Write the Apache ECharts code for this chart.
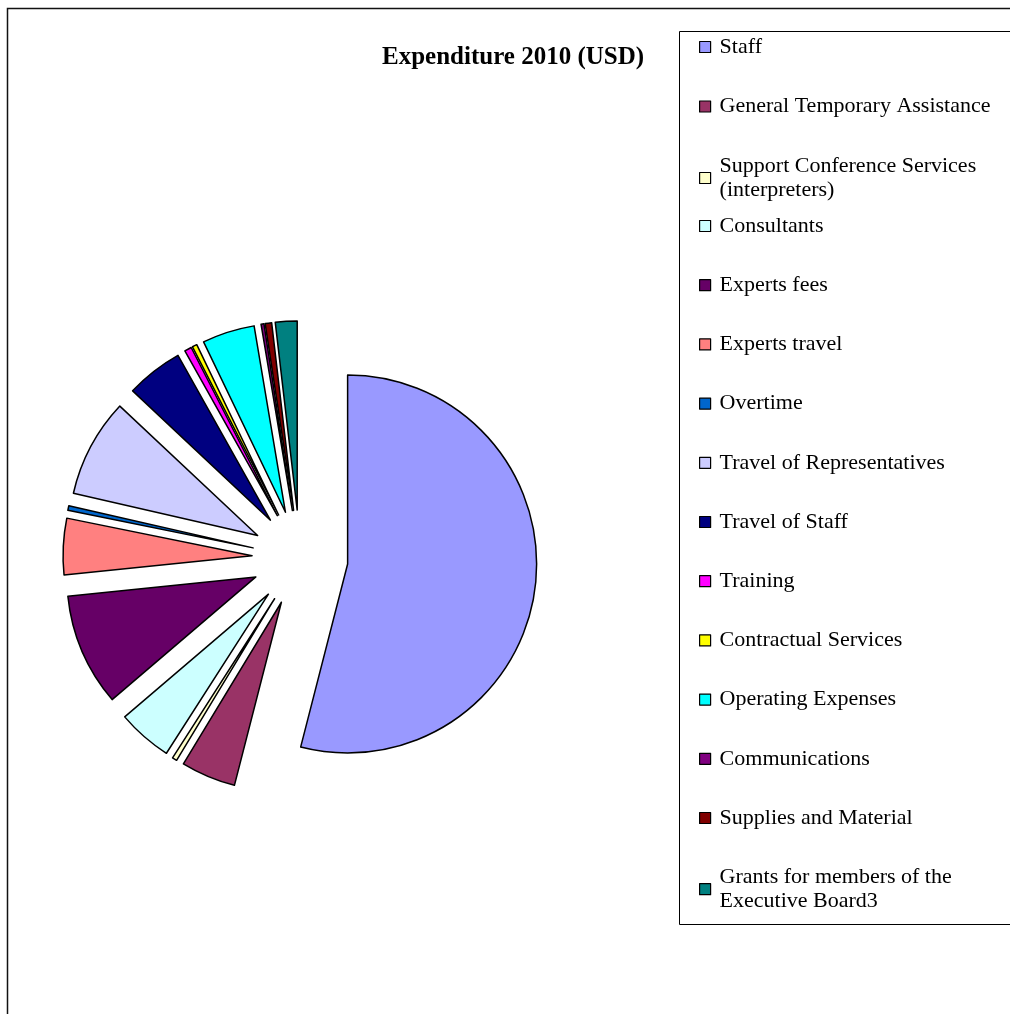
<!DOCTYPE html>
<html>
<head>
<meta charset="utf-8">
<script src="https://cdn.jsdelivr.net/npm/echarts@6/dist/echarts.min.js"></script>
<style>
html,body{margin:0;padding:0;background:#fff;}
#chart{width:1010px;height:1014px;}
</style>
</head>
<body>
<div id="chart"></div>
<script>
// Categories (legend order = slice order, clockwise from 12 o'clock)
const categories = [
  'Staff',
  'General Temporary Assistance',
  'Support Conference Services\n(interpreters)',
  'Consultants',
  'Experts fees',
  'Experts travel',
  'Overtime',
  'Travel of Representatives',
  'Travel of Staff',
  'Training',
  'Contractual Services',
  'Operating Expenses',
  'Communications',
  'Supplies and Material',
  'Grants for members of the\nExecutive Board3'
];
// Estimated shares of total expenditure (%)
const values = [53.9, 4.67, 0.4, 4.67, 9.6, 4.8, 0.4, 8.4, 4.86, 0.6, 0.4, 4.47, 0.25, 0.55, 1.85];
const colors = ['#9999FF','#993366','#FFFFCC','#CCFFFF','#660066','#FF8080','#0066CC','#CCCCFF','#000080','#FF00FF','#FFFF00','#00FFFF','#800080','#800000','#008080'];
const titleText = 'Expenditure 2010 (USD)';

const chart = echarts.init(document.getElementById('chart'), null, {renderer: 'canvas'});

const pieData = categories.map((c, i) => ({
  name: c,
  value: values[i],
  selected: true,
  itemStyle: {color: colors[i]}
}));

function makeLegend(names, top, gap) {
  return {
    orient: 'vertical',
    left: 699,
    top: top,
    padding: 0,
    itemWidth: 11,
    itemHeight: 11,
    itemGap: gap,
    icon: 'rect',
    selectedMode: false,
    itemStyle: {borderColor: '#000', borderWidth: 1.2},
    textStyle: {
      fontFamily: 'Liberation Serif',
      fontSize: 22,
      lineHeight: 24,
      color: '#000',
      padding: [0, 0, 0, 4]
    },
    data: names
  };
}

const option = {
  backgroundColor: '#ffffff',
  animation: false,
  title: {
    text: titleText,
    left: 382,
    top: 45,
    padding: 0,
    textStyle: {
      fontFamily: 'Liberation Serif',
      fontWeight: 'bold',
      fontSize: 25,
      color: '#000'
    }
  },
  legend: [
    makeLegend(categories.slice(0, 3), 35, 35.5),
    makeLegend(categories.slice(3), 214, 35.2)
  ],
  graphic: [
    {
      type: 'rect',
      silent: true,
      shape: {x: 7.5, y: 8.5, width: 1100, height: 1100},
      style: {fill: 'none', stroke: '#111', lineWidth: 1.5}
    },
    {
      type: 'rect',
      silent: true,
      shape: {x: 679.5, y: 31.5, width: 400, height: 893},
      style: {fill: '#fff', stroke: '#000', lineWidth: 1},
      z: -1
    }
  ],
  series: [{
    type: 'pie',
    center: [300, 558],
    radius: [0, 189],
    startAngle: 90,
    clockwise: true,
    selectedMode: 'multiple',
    selectedOffset: 48,
    avoidLabelOverlap: false,
    label: {show: false},
    labelLine: {show: false},
    emphasis: {disabled: true, scale: false},
    itemStyle: {borderColor: '#000', borderWidth: 1.5},
    data: pieData
  }]
};
chart.setOption(option);
</script>
</body>
</html>
